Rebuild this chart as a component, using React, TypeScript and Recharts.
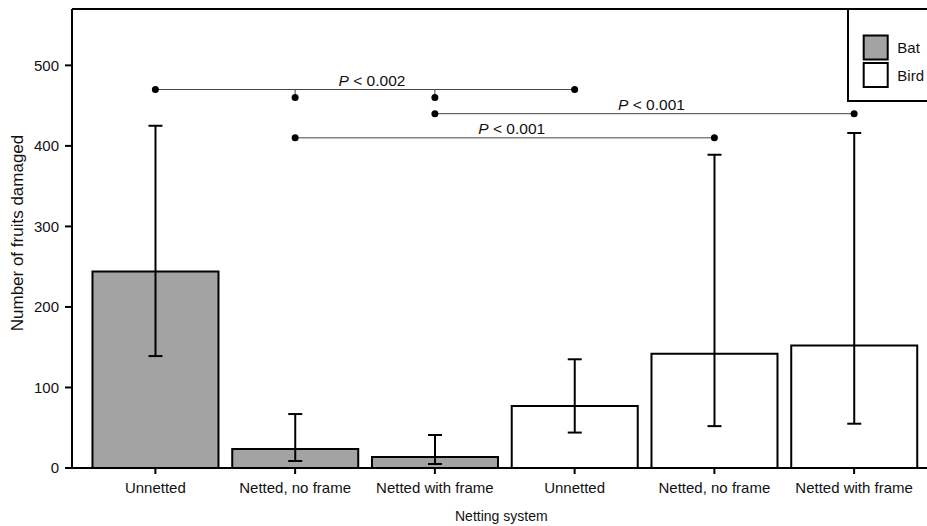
import React from 'react';
import {
  BarChart,
  Bar,
  XAxis,
  YAxis,
  ErrorBar,
  Cell,
  ReferenceLine,
  ReferenceDot,
  Legend,
} from 'recharts';

const categories = ['Unnetted', 'Netted, no frame', 'Netted with frame', 'Unnetted', 'Netted, no frame', 'Netted with frame'];
const groups = ['Bat', 'Bat', 'Bat', 'Bird', 'Bird', 'Bird'];
const means = [244, 23.5, 13.6, 77, 142, 152];
const lower = [139, 8.7, 5, 44, 52, 55];
const upper = [425, 67, 41, 135, 389, 416];
const yTicks = [0, 100, 200, 300, 400, 500];

// pairwise comparisons, from/to are bar indices
const comparisons = [
  { from: 0, to: 3, y: 470, p: '0.002' },
  { from: 2, to: 5, y: 440, p: '0.001' },
  { from: 1, to: 4, y: 410, p: '0.001' },
];
// short drops from the top bracket down to a dot
const drops = [
  { at: 1, top: 470, y: 460 },
  { at: 2, top: 470, y: 460 },
];

const groupFill: Record<string, string> = { Bat: '#a3a3a3', Bird: '#ffffff' };
const FONT = 'Arial, "Liberation Sans", sans-serif';
const INK = '#111';

const data = categories.map((c, i) => ({
  key: `${groups[i]} ${c}`,
  label: c,
  group: groups[i],
  value: means[i],
  err: [means[i] - lower[i], upper[i] - means[i]],
}));

const sigLabel = (p: string) => (props: any) => {
  const vb = props.viewBox;
  const cx = vb.x + vb.width / 2 + 7;
  return (
    <text x={cx} y={vb.y - 3.5} textAnchor="middle" fontSize={15.5} fill={INK} fontFamily={FONT}>
      <tspan fontStyle="italic">P</tspan>
      {` < ${p}`}
    </text>
  );
};

const xTitle = (props: any) => {
  const vb = props.viewBox;
  return (
    <text x={vb.x + vb.width / 2 + 1.8} y={vb.y + vb.height - 5.3} textAnchor="middle" fontSize={14} fill={INK} fontFamily={FONT}>
      Netting system
    </text>
  );
};

const yTitle = (props: any) => {
  const vb = props.viewBox;
  const cx = 9.5;
  const cy = vb.y + vb.height / 2 - 5.5;
  return (
    <text x={cx} y={cy} transform={`rotate(-90 ${cx} ${cy})`} textAnchor="middle" dominantBaseline="central" fontSize={17} fill={INK} fontFamily={FONT}>
      Number of fruits damaged
    </text>
  );
};

const LegendBox = () => (
  <svg width={81} height={96} style={{ display: 'block', overflow: 'visible' }}>
    <path d="M2,0 V93 H81" fill="none" stroke="#000" strokeWidth={2} />
    {['Bat', 'Bird'].map((g, i) => (
      <g key={g}>
        <rect x={17.7} y={27.5 + i * 27.5} width={24} height={24} fill={groupFill[g]} stroke="#000" strokeWidth={2} />
        <text x={51.3} y={45.3 + i * 27.7} fontSize={15} fill={INK} fontFamily={FONT}>
          {g}
        </text>
      </g>
    ))}
  </svg>
);

export default function App() {
  return (
    <div style={{ width: 927, height: 526, paddingLeft: 8, paddingTop: 8, boxSizing: 'border-box', fontFamily: FONT }}>
      <style>{'body { margin: 0; }'}</style>
      <BarChart
        width={919}
        height={518}
        data={data}
        margin={{ top: 1, right: 0, left: 0, bottom: 0 }}
        barCategoryGap="5%"
      >
        <XAxis
          dataKey="key"
          type="category"
          tickFormatter={(k: string, i: number) => data[i]?.label ?? k}
          padding={{ left: 13.5, right: 3 }}
          height={58}
          tickSize={6}
          tickMargin={8}
          axisLine={{ stroke: '#000', strokeWidth: 2 }}
          tickLine={{ stroke: '#000', strokeWidth: 2 }}
          tick={{ fontSize: 15, fill: INK, fontFamily: FONT }}
          interval={0}
          label={xTitle}
        />
        <YAxis
          domain={[0, 570]}
          ticks={yTicks}
          width={64}
          tickSize={7}
          tickMargin={6}
          axisLine={{ stroke: '#000', strokeWidth: 2 }}
          tickLine={{ stroke: '#000', strokeWidth: 2 }}
          tick={{ fontSize: 15, fill: INK, fontFamily: FONT }}
          label={yTitle}
        />
        <ReferenceLine y={570} stroke="#000" strokeWidth={2} />
        <Bar dataKey="value" stroke="#000" strokeWidth={2} isAnimationActive={false}>
          {data.map((d) => (
            <Cell key={d.key} fill={groupFill[d.group]} />
          ))}
          <ErrorBar dataKey="err" width={7} stroke="#000" strokeWidth={2} isAnimationActive={false} />
        </Bar>
        {comparisons.map((c, i) => (
          <ReferenceLine
            key={`cmp-${i}`}
            segment={[
              { x: data[c.from].key, y: c.y },
              { x: data[c.to].key, y: c.y },
            ]}
            stroke="#444"
            strokeWidth={1}
            label={sigLabel(c.p)}
          />
        ))}
        {drops.map((d, i) => (
          <ReferenceLine
            key={`drop-${i}`}
            segment={[
              { x: data[d.at].key, y: d.top },
              { x: data[d.at].key, y: d.y },
            ]}
            stroke="#444"
            strokeWidth={1}
          />
        ))}
        {comparisons.flatMap((c, i) => [
          <ReferenceDot key={`a-${i}`} x={data[c.from].key} y={c.y} r={3.5} fill="#000" stroke="none" />,
          <ReferenceDot key={`b-${i}`} x={data[c.to].key} y={c.y} r={3.5} fill="#000" stroke="none" />,
        ])}
        {drops.map((d, i) => (
          <ReferenceDot key={`d-${i}`} x={data[d.at].key} y={d.y} r={3.5} fill="#000" stroke="none" />
        ))}
        <Legend
          layout="vertical"
          align="center"
          verticalAlign="middle"
          content={() => <LegendBox />}
          wrapperStyle={{ position: 'absolute', left: 838, top: 0, width: 81, height: 96 }}
        />
      </BarChart>
    </div>
  );
}
